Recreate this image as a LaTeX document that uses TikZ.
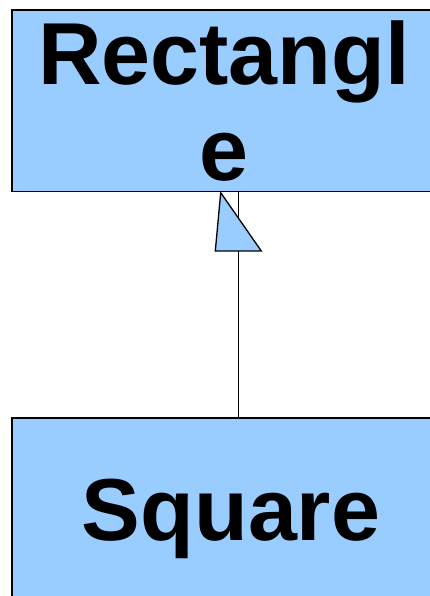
\documentclass[tikz,border=0pt]{standalone}
\usepackage{fontspec}
\setmainfont{Liberation Sans}
\definecolor{boxblue}{HTML}{99CCFF}
\begin{document}
\begin{tikzpicture}[x=1pt,y=1pt,
  umlbox/.style={draw=black, fill=boxblue, line width=1.4pt, rectangle, inner sep=0pt, align=center,
    font=\fontsize{88}{96}\selectfont\bfseries},
  link/.style={draw=black, line width=1.3pt},
  inherit/.style={draw=black, fill=boxblue, line width=1.3pt, line join=miter}]
\useasboundingbox (0,0) rectangle (430,596);
\clip (0,0) rectangle (430,596);
% top box: x 12..436, y 10..191.7 (image px, from top)
\node[umlbox, minimum width=424pt, minimum height=181.7pt] (rect) at (224,{596-100.85}) {Rectangl\\e};
% bottom box: x 12..450, y 418..620
\node[umlbox, minimum width=438pt, minimum height=202pt] (sq) at (231,{596-519}) {Square};
\coordinate (conn) at (238.5,300);
\draw[link] (sq.north -| conn) -- (rect.south -| conn);
\draw[inherit] (220.7,{596-192.7}) -- (215.3,{596-251}) -- (261.3,{596-251}) -- cycle;
\end{tikzpicture}
\end{document}
